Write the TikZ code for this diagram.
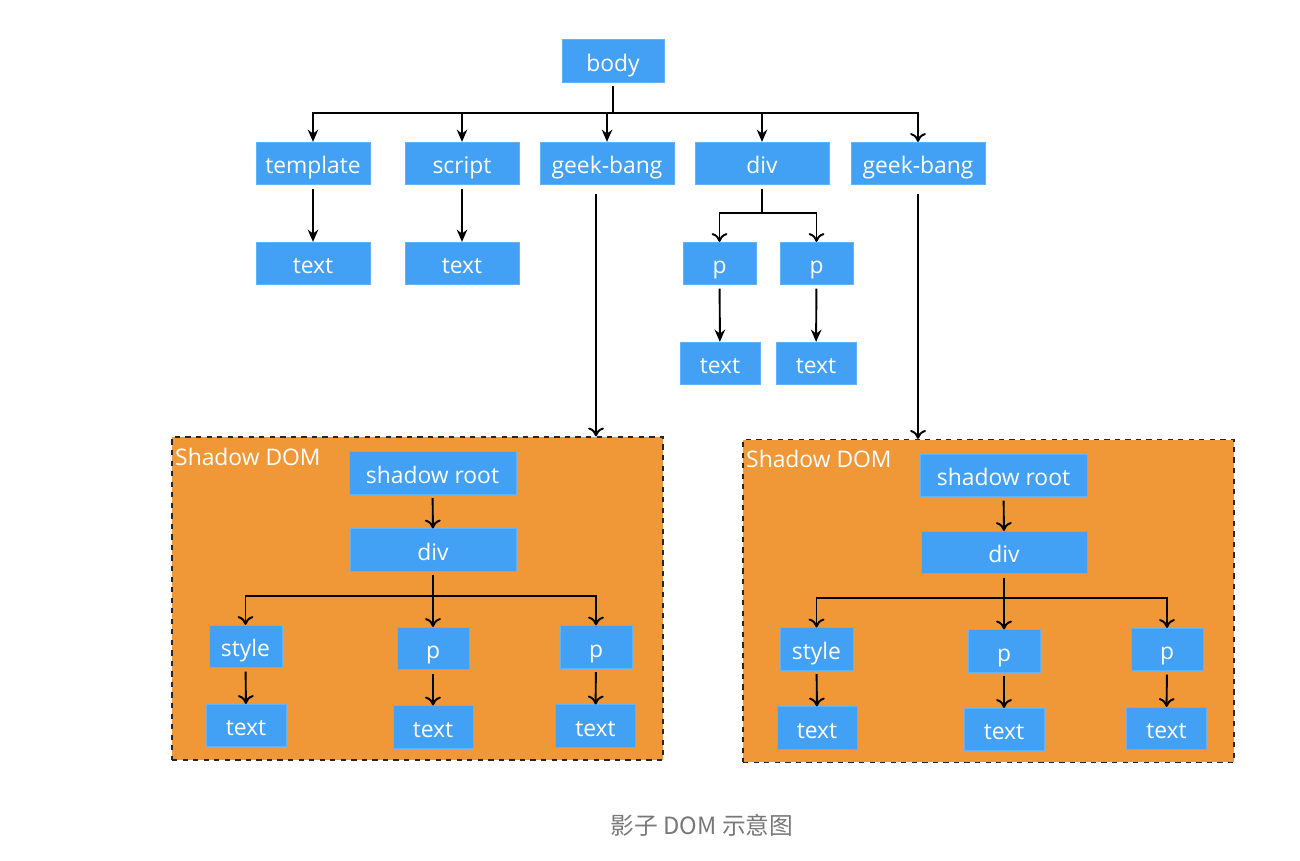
\documentclass[tikz,border=0pt]{standalone}
\usepackage{fontspec}
\setmainfont{Open Sans}
\newfontfamily\cjk{Noto Sans CJK SC}
\usetikzlibrary{positioning,arrows.meta}
\definecolor{domblue}{RGB}{66,161,245}
\definecolor{domedge}{RGB}{96,178,250}
\definecolor{shadoworange}{RGB}{240,151,56}
\definecolor{captiongray}{RGB}{120,120,120}
\begin{document}
\begin{tikzpicture}[
     % define styles
     x=0.02cm, y=-0.02cm,
     dom/.style={
         draw=domedge,
         fill=domblue,
         text=white,
         inner sep=0pt,
         minimum height=0.85cm,
         text height=2.4ex,
         text depth=0.2ex,
         font=\fontsize{13}{15}\selectfont
     },
     shadowbox/.style={
         draw=black!85,
         dashed,
         line width=0.8pt,
         fill=shadoworange,
         minimum width=9.82cm,
         minimum height=6.46cm
     },
     link/.style={
         -{Stealth[length=7pt,width=6pt]},
         line width=1.1pt,
         shorten <=2pt
     },
     openlink/.style={
         -{To[length=5pt,width=9pt]},
         line width=1.1pt,
         shorten <=2pt
     }
]
\useasboundingbox (0,0) rectangle (1300,861);

% outer document tree
\node[dom, minimum width=2.04cm] (body) at (613,61) {body};
\node[dom, minimum width=2.28cm] (tpl) at (313,163.5) {template};
\node[dom, minimum width=2.28cm] (scr) at (462,163.5) {script};
\node[dom, minimum width=2.68cm] (gb1) at (607,163.5) {geek-bang};
\node[dom, minimum width=2.68cm] (div) at (762,163.5) {div};
\node[dom, minimum width=2.68cm] (gb2) at (918,163.5) {geek-bang};
\node[dom, minimum width=2.28cm] (tpltext) at (313,263.5) {text};
\node[dom, minimum width=2.28cm] (scrtext) at (462,263.5) {text};
\node[dom, minimum width=1.46cm] (p1) at (719.5,263.5) {p};
\node[dom, minimum width=1.46cm] (p2) at (816.5,263.5) {p};
\node[dom, minimum width=1.6cm] (p1text) at (720,363.5) {text};
\node[dom, minimum width=1.6cm] (p2text) at (816,363.5) {text};

\foreach \c in {tpl,scr,gb1,div}
    \draw[link] (body.south) -- ++(0,30) -| (\c.north);
\draw[openlink] (body.south) -- ++(0,30) -| (gb2.north);
\draw[link] (tpl) -- (tpltext);
\draw[link] (scr) -- (scrtext);
\foreach \c in {p1,p2}
    \draw[openlink] (div.south) -- ++(0,28) -| (\c.north);
\draw[link] (p1) -- (p1text);
\draw[link] (p2) -- (p2text);

% the two shadow trees
\foreach \n/\dx/\dy in {1/0/0, 2/571/2.5} {
  \begin{scope}[shift={(\dx,\dy)}]
    \node[shadowbox] (sd\n) at (417.5,598.5) {};
    \node[anchor=north west, text=white, inner xsep=2pt, inner ysep=6.5pt,
          font=\fontsize{13}{15}\selectfont] (sdlabel\n) at (sd\n.north west) {Shadow DOM};
    \node[dom, minimum width=3.34cm] (sr\n) at (432.5,473) {shadow root};
    \node[dom, minimum width=3.32cm] (sdiv\n) at (433,550) {div};
    \node[dom, minimum width=1.46cm] (sstyle\n) at (245.5,646.5) {style};
    \node[dom, minimum width=1.44cm] (sp\n) at (433,648.5) {p};
    \node[dom, minimum width=1.44cm] (sq\n) at (596,647) {p};
    \node[dom, minimum width=1.6cm] (st\n) at (246,725.5) {text};
    \node[dom, minimum width=1.6cm] (su\n) at (433,727) {text};
    \node[dom, minimum width=1.6cm] (sv\n) at (595.5,726) {text};
  \end{scope}
  \draw[openlink] (sr\n) -- (sdiv\n);
  \foreach \c in {sstyle\n,sp\n,sq\n}
      \draw[openlink] (sdiv\n.south) -- ++(0,24) -| (\c.north);
  \draw[openlink] (sstyle\n) -- (st\n);
  \draw[openlink] (sp\n) -- (su\n);
  \draw[openlink] (sq\n) -- (sv\n);
}
\draw[openlink, shorten <=5pt] ([xshift=-0.22cm]gb1.south) -- ([xshift=-0.22cm]gb1.south |- sd1.north);
\draw[openlink, shorten <=5pt] (gb2.south) -- (gb2.south |- sd2.north);

% caption
\node[text=captiongray, font=\cjk\fontsize{13.5}{16}\selectfont] (caption) at (702,825) {影子 DOM 示意图};
\end{tikzpicture}
\end{document}
